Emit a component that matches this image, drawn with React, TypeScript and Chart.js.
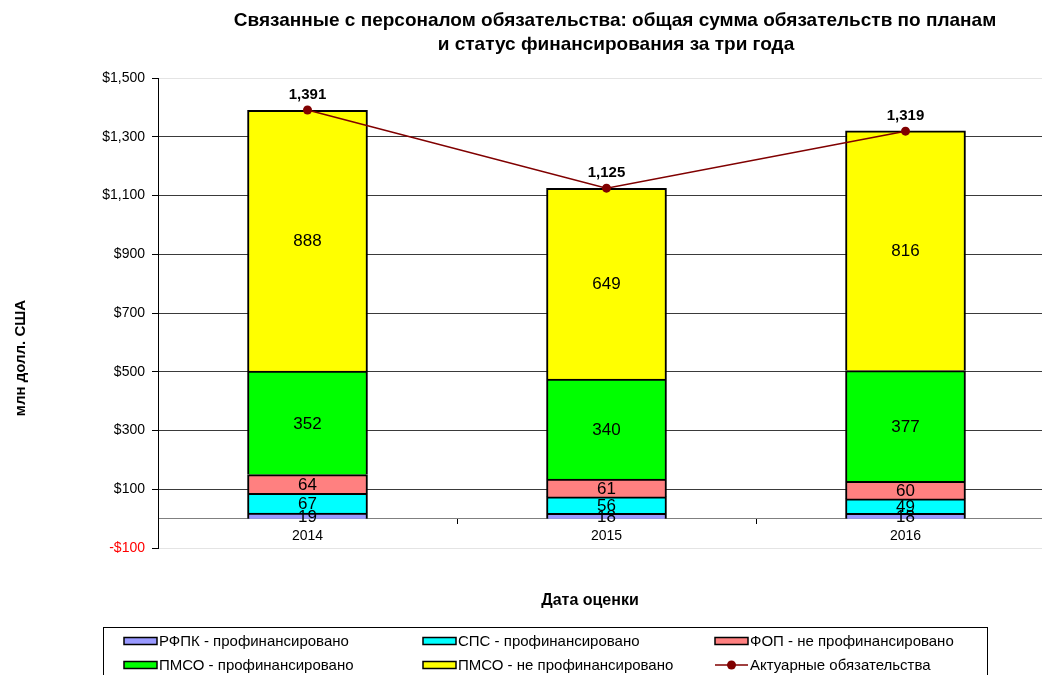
import React, { useEffect, useRef } from 'react';
import { Chart, registerables } from 'chart.js';

Chart.register(...registerables);

// ---------- data ----------
const years = ['2014', '2015', '2016'];
const rfpkFunded = [19, 18, 18];
const spsFunded = [67, 56, 49];
const fopUnfunded = [64, 61, 60];
const pmsoFunded = [352, 340, 377];
const pmsoUnfunded = [888, 649, 816];
const actuarialLiabilities = [1391, 1125, 1319];
const yTickValues = [-100, 100, 300, 500, 700, 900, 1100, 1300, 1500];

const titleLines = [
  'Связанные с персоналом обязательства: общая сумма обязательств по планам',
  'и статус финансирования за три года',
];
const yAxisTitle = 'млн долл. США';
const xAxisTitle = 'Дата оценки';
const seriesNames = [
  'РФПК - профинансировано',
  'СПС - профинансировано',
  'ФОП - не профинансировано',
  'ПМСО - профинансировано',
  'ПМСО - не профинансировано',
  'Актуарные обязательства',
];
const seriesColors = ['#9999FF', '#00FFFF', '#FF8080', '#00FF00', '#FFFF00', '#800000'];

const FONT = '"Liberation Sans", Arial, Helvetica, sans-serif';

const fmtMoney = (v: number) => {
  const s = Math.abs(v).toLocaleString('en-US');
  return v < 0 ? '-$' + s : '$' + s;
};

const decorPlugin = {
  id: 'decor',
  afterDatasetsDraw(chart: any) {
    const ctx = chart.ctx;
    ctx.save();
    // segment value labels
    ctx.font = `17px ${FONT}`;
    ctx.fillStyle = '#000';
    ctx.textAlign = 'center';
    ctx.textBaseline = 'middle';
    chart.data.datasets.forEach((ds: any, i: number) => {
      if (ds.type !== 'bar') return;
      const meta = chart.getDatasetMeta(i);
      meta.data.forEach((el: any, j: number) => {
        const p = el.getProps(['x', 'y', 'base'], true);
        ctx.fillText(String(ds.data[j]), p.x, (p.y + p.base) / 2 + 1);
      });
    });
    // line point labels
    ctx.font = `bold 15px ${FONT}`;
    ctx.textBaseline = 'bottom';
    chart.data.datasets.forEach((ds: any, i: number) => {
      if (ds.type !== 'line') return;
      const meta = chart.getDatasetMeta(i);
      meta.data.forEach((el: any, j: number) => {
        const p = el.getProps(['x', 'y'], true);
        ctx.fillText(ds.data[j].toLocaleString('en-US'), p.x, p.y - 8);
      });
    });
    ctx.restore();
  },
  afterDraw(chart: any) {
    const ctx = chart.ctx;
    ctx.save();
    ctx.fillStyle = '#000';
    ctx.textAlign = 'center';
    ctx.textBaseline = 'middle';
    // title
    ctx.font = `bold 19px ${FONT}`;
    ctx.fillText(titleLines[0], 615, 21, 766);
    ctx.fillText(titleLines[1], 616, 45, 766);
    // x title
    ctx.font = `bold 16px ${FONT}`;
    ctx.fillText(xAxisTitle, 590, 601);
    // y title
    ctx.font = `bold 15px ${FONT}`;
    ctx.save();
    ctx.translate(21, 358);
    ctx.rotate(-Math.PI / 2);
    ctx.fillText(yAxisTitle, 0, 0);
    ctx.restore();
    // legend
    ctx.strokeStyle = '#000';
    ctx.lineWidth = 1;
    ctx.strokeRect(103.5, 627.5, 884, 60);
    const cols = [124, 423, 715];
    const rows = [641, 665];
    ctx.font = `15px ${FONT}`;
    ctx.textAlign = 'left';
    seriesNames.forEach((name, k) => {
      const cx = cols[k % 3];
      const cy = rows[Math.floor(k / 3)];
      if (k < 5) {
        ctx.fillStyle = seriesColors[k];
        ctx.fillRect(cx, cy - 3.5, 33, 7);
        ctx.strokeStyle = '#000';
        ctx.lineWidth = 1.5;
        ctx.strokeRect(cx, cy - 3.5, 33, 7);
      } else {
        ctx.strokeStyle = seriesColors[k];
        ctx.lineWidth = 1.5;
        ctx.beginPath();
        ctx.moveTo(cx, cy);
        ctx.lineTo(cx + 33, cy);
        ctx.stroke();
        ctx.fillStyle = seriesColors[k];
        ctx.beginPath();
        ctx.arc(cx + 16.5, cy, 4.5, 0, Math.PI * 2);
        ctx.fill();
      }
      ctx.fillStyle = '#000';
      ctx.fillText(name, cx + 35, cy + 1);
    });
    ctx.restore();
  },
};

export default function App() {
  const canvasRef = useRef<HTMLCanvasElement | null>(null);

  useEffect(() => {
    if (!canvasRef.current) return;
    const barSeries = [rfpkFunded, spsFunded, fopUnfunded, pmsoFunded, pmsoUnfunded];
    const chart = new Chart(canvasRef.current, {
      type: 'bar',
      data: {
        labels: years,
        datasets: [
          ...barSeries.map((d, k) => ({
            type: 'bar' as const,
            label: seriesNames[k],
            data: d,
            backgroundColor: seriesColors[k],
            borderColor: '#000',
            borderWidth: 2,
            barThickness: 120,
            order: 1,
          })),
          {
            type: 'line' as const,
            label: seriesNames[5],
            data: actuarialLiabilities,
            borderColor: seriesColors[5],
            backgroundColor: seriesColors[5],
            borderWidth: 1.5,
            pointRadius: 4.5,
            pointBackgroundColor: seriesColors[5],
            pointBorderWidth: 0,
            order: 0,
          },
        ],
      } as any,
      options: {
        responsive: false,
        animation: false,
        events: [],
        layout: { padding: { top: 78, bottom: 127, left: 0, right: 5 } },
        plugins: {
          legend: { display: false },
          tooltip: { enabled: false },
          title: { display: false },
        },
        scales: {
          x: {
            stacked: true,
            position: { y: 0 } as any,
            grid: {
              offset: true,
              drawOnChartArea: false,
              drawTicks: true,
              tickLength: 5,
              color: '#000',
            },
            border: { display: true, color: '#808080', width: 1 },
            ticks: {
              color: '#000',
              font: { family: FONT, size: 14 },
              padding: 4,
              maxRotation: 0,
            },
          },
          y: {
            stacked: true,
            min: -100,
            max: 1500,
            afterBuildTicks: (scale: any) => {
              scale.ticks = yTickValues.map((v) => ({ value: v }));
            },
            afterFit: (scale: any) => {
              scale.width = 158;
            },
            grid: {
              color: (c: any) =>
                c.tick && (c.tick.value === 1500 || c.tick.value === -100) ? '#e4e4e4' : '#3a3a3a',
              tickColor: '#000',
              tickLength: 6,
              lineWidth: 1,
            },
            border: { display: true, color: '#000', width: 1 },
            ticks: {
              color: (c: any) => (c.tick && c.tick.value < 0 ? '#FF0000' : '#000'),
              font: { family: FONT, size: 14 },
              padding: 7,
              callback: (v: any) => fmtMoney(Number(v)),
            },
          },
        },
      },
      plugins: [decorPlugin],
    });
    return () => chart.destroy();
  }, []);

  return (
    <div
      style={{
        position: 'fixed',
        left: 0,
        top: 0,
        width: 1042,
        height: 675,
        overflow: 'hidden',
        background: '#fff',
      }}
    >
      <canvas ref={canvasRef} width={1060} height={675} style={{ width: 1060, height: 675, display: 'block' }} />
    </div>
  );
}
